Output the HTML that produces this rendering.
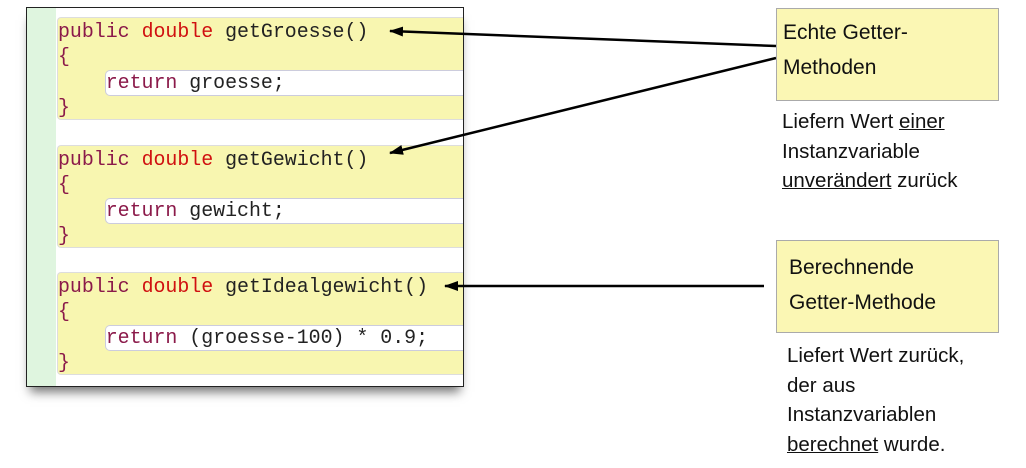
<!DOCTYPE html>
<html><head><meta charset="utf-8"><style>
body{margin:0;width:1026px;height:468px;background:#fff;position:relative;overflow:hidden;font-family:"Liberation Sans",sans-serif}
.panel{position:absolute;left:26px;top:7px;width:436px;height:378px;border:1.5px solid #222;background:#fff;box-shadow:0 9px 10px -4px rgba(0,0,0,.55);overflow:hidden}
.gut{position:absolute;left:0;top:0;width:29px;height:100%;background:#dff5df}
.blk{position:absolute;left:30px;width:406px;height:101px;background:#f8f6b0;border:1px solid #ddd;border-right:none;border-radius:4px 0 0 4px}
.code{position:absolute;left:31px;font-family:"Liberation Mono",monospace;font-size:19.9px;line-height:25.3px;white-space:pre;color:#222}
.ret{position:absolute;left:78px;width:358px;height:24px;background:#fff;border:1px solid #ccd;border-right:none;border-radius:5px 0 0 5px}
.k{color:#8b1a4a}.t{color:#d01010}
.box{position:absolute;left:776px;width:221px;height:91px;background:#fbf7b4;border:1px solid #aaa;font-size:21px;line-height:35px;color:#111}
.d{position:absolute;font-size:20.5px;line-height:29.5px;color:#111}
u{text-decoration-thickness:1px}
</style></head><body>
<div class="panel">
<div class="gut"></div>
<div class="blk" style="top:9px"></div><div class="ret" style="top:62px"></div>
<div class="blk" style="top:137px"></div><div class="ret" style="top:190px"></div>
<div class="blk" style="top:264px"></div><div class="ret" style="top:317px"></div>
<div class="code" style="top:11px"><span class="k">public</span> <span class="t">double</span> getGroesse()
<span class="k">{</span>
    <span class="k">return</span> groesse;
<span class="k">}</span></div>
<div class="code" style="top:139px"><span class="k">public</span> <span class="t">double</span> getGewicht()
<span class="k">{</span>
    <span class="k">return</span> gewicht;
<span class="k">}</span></div>
<div class="code" style="top:266px"><span class="k">public</span> <span class="t">double</span> getIdealgewicht()
<span class="k">{</span>
    <span class="k">return</span> (groesse-100) * 0.9;
<span class="k">}</span></div>
</div>
<svg width="1026" height="468" style="position:absolute;left:0;top:0">
<defs><marker id="a" markerWidth="14" markerHeight="10" refX="13" refY="5" orient="auto" markerUnits="userSpaceOnUse"><path d="M0,0 L14,5 L0,10 Z" fill="#000"/></marker></defs>
<g stroke="#000" stroke-width="2.5" fill="none">
<line x1="776" y1="46" x2="390" y2="31" marker-end="url(#a)"/>
<line x1="776" y1="58" x2="390" y2="153" marker-end="url(#a)"/>
<line x1="764" y1="286" x2="445" y2="286" marker-end="url(#a)"/>
</g></svg>
<div class="box" style="top:8px"><div style="padding:6px 0 0 6px">Echte Getter-<br>Methoden</div></div>
<div class="d" style="left:782px;top:107px">Liefern Wert <u>einer</u><br>Instanzvariable<br><u>unverändert</u> zurück</div>
<div class="box" style="top:240px"><div style="padding:9px 0 0 12px">Berechnende<br>Getter-Methode</div></div>
<div class="d" style="left:787px;top:341px">Liefert Wert zurück,<br>der aus<br>Instanzvariablen<br><u>berechnet</u> wurde.</div>
</body></html>
